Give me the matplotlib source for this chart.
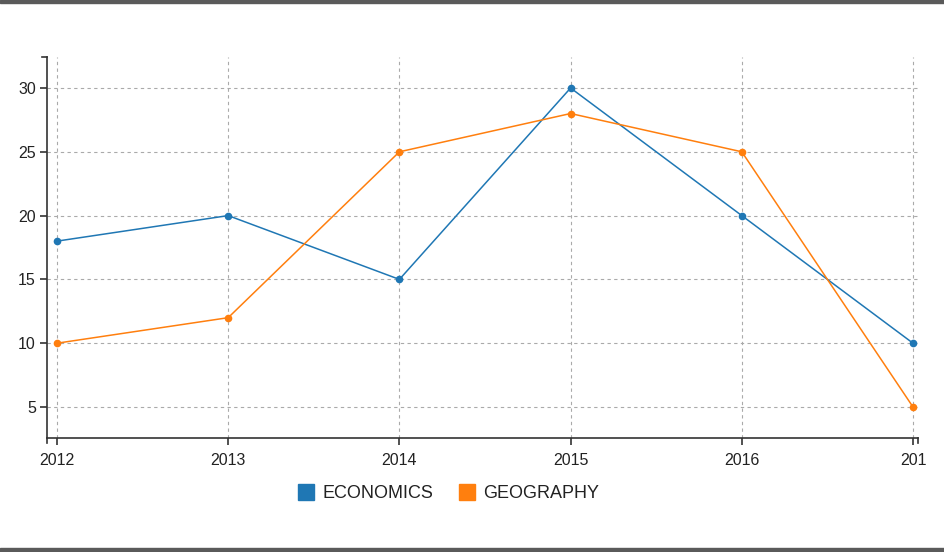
import matplotlib
matplotlib.use("Agg")
import matplotlib.pyplot as plt
from matplotlib.lines import Line2D
from matplotlib.patches import Rectangle

plt.rcParams["font.family"] = ["Liberation Sans", "DejaVu Sans"]

years = [2012, 2013, 2014, 2015, 2016, 2017]
economics = [18, 20, 15, 30, 20, 10]
geography = [10, 12, 25, 28, 25, 5]
y_ticks = [5, 10, 15, 20, 25, 30]

BLUE = "#1f77b4"
ORANGE = "#ff7f0e"
W, H = 945, 552

fig = plt.figure(figsize=(W / 100, H / 100), dpi=100)
ax = fig.add_axes([47 / W, 1 - 438 / H, (918 - 47) / W, (438 - 57) / H])

for vals, col in [(economics, BLUE), (geography, ORANGE)]:
    ax.plot(years, vals, color=col, linewidth=1.1, marker="o",
            markersize=5.5, markeredgewidth=0, zorder=3, clip_on=False)

ax.set_xlim(2012 - 10 / 171.2, 2017 + 5 / 171.2)
ax.set_ylim(5 - 31 / 12.76, 30 + 31 / 12.76)
ax.set_xticks(years)
ax.set_xticklabels([str(y) for y in years[:-1]] + ["201"])
ax.set_yticks(y_ticks)

ax.grid(True, color="#aaaaaa", linestyle=(0, (3, 3)), linewidth=0.8)
ax.set_axisbelow(True)
for s in ["top", "right"]:
    ax.spines[s].set_visible(False)
for s in ["left", "bottom"]:
    ax.spines[s].set_color("#333333")
    ax.spines[s].set_linewidth(1.2)
ax.tick_params(axis="both", direction="out", length=5, width=1.2,
               color="#333333", labelsize=11.5, labelcolor="#222222", pad=3)
ax.tick_params(axis="x", pad=6)

# end ticks of the axis domains
ax.plot([0, 0], [0, -5 / 381], transform=ax.transAxes, color="#333333",
        lw=1.2, clip_on=False)
ax.plot([1, 1], [0, -5 / 381], transform=ax.transAxes, color="#333333",
        lw=1.2, clip_on=False)
ax.plot([0, -5 / 871], [1, 1], transform=ax.transAxes, color="#333333",
        lw=1.2, clip_on=False)

handles = [
    Line2D([], [], linestyle="none", marker="s", markersize=11,
           color=BLUE, label="ECONOMICS"),
    Line2D([], [], linestyle="none", marker="s", markersize=11,
           color=ORANGE, label="GEOGRAPHY"),
]
fig.legend(handles=handles, loc="center", bbox_to_anchor=(449 / W, 1 - 494 / H),
           ncol=2, frameon=False, fontsize=13, handlelength=0.8,
           handletextpad=0.5, columnspacing=1.5, labelcolor="#222222")

# window frame at top and bottom edges
fig.patches.append(Rectangle((0, 1 - 3 / H), 1, 3 / H, transform=fig.transFigure,
                             color="#5a5a5a", zorder=0))
fig.patches.append(Rectangle((0, 0), 1, 4 / H, transform=fig.transFigure,
                             color="#5a5a5a", zorder=0))

fig.savefig("out.png", dpi=100)
